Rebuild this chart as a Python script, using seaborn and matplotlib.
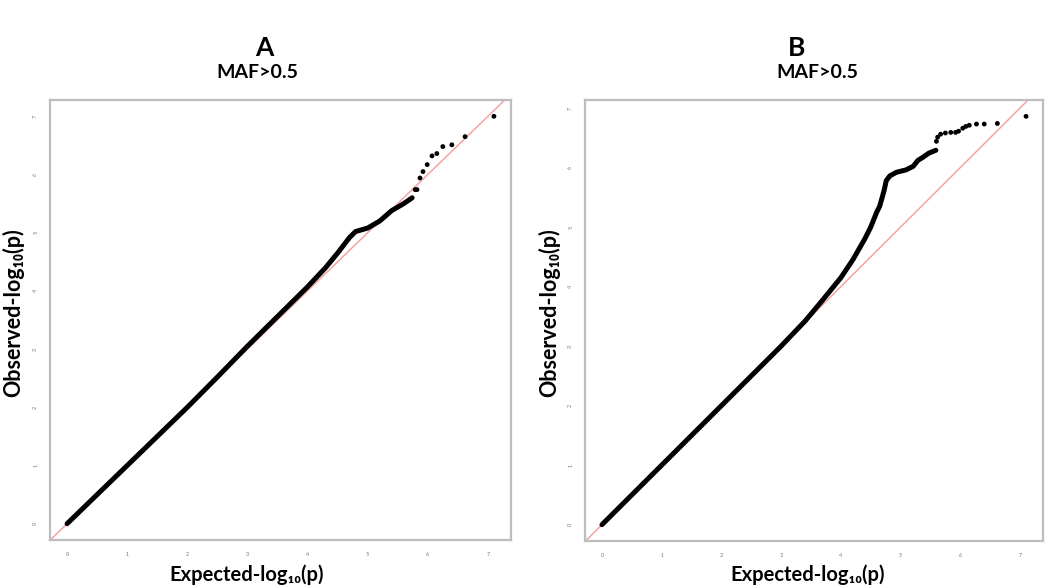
import numpy as np
import pandas as pd
import matplotlib.pyplot as plt
import seaborn as sns

# QQ plot values (expected vs observed -log10 p)
# Panel A: dense body of the curve
a_body_exp = [0, 1, 2, 2.5, 3, 3.5, 4, 4.3, 4.5, 4.7, 4.8, 5.0, 5.2, 5.4, 5.6, 5.74]
a_body_obs = [0, 1, 2, 2.52, 3.05, 3.56, 4.07, 4.4, 4.65, 4.92, 5.02, 5.08, 5.2, 5.38, 5.5, 5.6]
# Panel A: sparse tail points
a_tail_exp = [5.79, 5.82, 5.87, 5.92, 5.99, 6.07, 6.15, 6.25, 6.40, 6.62, 7.10]
a_tail_obs = [5.74, 5.74, 5.94, 6.05, 6.17, 6.32, 6.36, 6.48, 6.51, 6.65, 7.00]

# Panel B: dense body of the curve
b_body_exp = [0, 1, 2, 3, 3.4, 3.7, 4.0, 4.2, 4.4, 4.5, 4.6, 4.65, 4.72, 4.76,
              4.82, 4.93, 5.09, 5.21, 5.29, 5.37, 5.47, 5.59]
b_body_obs = [0, 1, 2, 3, 3.42, 3.78, 4.15, 4.45, 4.8, 5.0, 5.25, 5.35, 5.6, 5.78,
              5.86, 5.92, 5.96, 6.02, 6.12, 6.17, 6.24, 6.29]
# Panel B: sparse tail points
b_tail_exp = [5.60, 5.62, 5.67, 5.75, 5.84, 5.92, 5.97, 6.04, 6.09, 6.15, 6.27, 6.40, 6.62, 7.10]
b_tail_obs = [6.44, 6.51, 6.56, 6.58, 6.59, 6.59, 6.61, 6.66, 6.69, 6.71, 6.73, 6.73, 6.74, 6.86]

ticks = [0, 1, 2, 3, 4, 5, 6, 7]

sns.set_style("white")
plt.rcParams['font.family'] = ['Lato', 'DejaVu Sans']
plt.rcParams['text.color'] = 'black'

W, H = 1050, 586
fig = plt.figure(figsize=(W / 100, H / 100), dpi=100)
ax_a = fig.add_axes([50 / W, 1 - 540 / H, 461 / W, 440 / H])
ax_b = fig.add_axes([585 / W, 1 - 541 / H, 458 / W, 441 / H])

panels = [
    (ax_a, "A", a_body_exp, a_body_obs, a_tail_exp, a_tail_obs, 264, 257, 247, 13),
    (ax_b, "B", b_body_exp, b_body_obs, b_tail_exp, b_tail_obs, 797, 817, 808, 549),
]

for ax, letter, bx, by, tx, ty, letter_x, title_x, xlab_x, ylab_x in panels:
    body = pd.DataFrame({"expected": bx, "observed": by})
    tail = pd.DataFrame({"expected": tx, "observed": ty})

    # y = x reference line across the whole panel
    ax.axline((0, 0), slope=1, color="#f4a3a3", lw=1.1, zorder=1)

    sns.lineplot(data=body, x="expected", y="observed", ax=ax, sort=False,
                 color="black", lw=3.6, solid_capstyle="round", zorder=3)
    sns.scatterplot(data=tail, x="expected", y="observed", ax=ax,
                    color="black", s=12, edgecolor="none", zorder=3)

    xmax = max(tx)
    ymax = max(ty)
    ax.set_xlim(-0.04 * xmax, 1.04 * xmax)
    ax.set_ylim(-0.04 * ymax, 1.04 * ymax)

    ax.set_xticks(ticks)
    ax.set_yticks(ticks)
    ax.tick_params(axis="both", direction="out", length=3.5, width=0.8,
                   color="#888888", labelcolor="#777777", labelsize=4, pad=5)
    for lab in ax.get_yticklabels():
        lab.set_rotation(90)
        lab.set_va("center")

    for sp in ax.spines.values():
        sp.set_color("#bdbdbd")
        sp.set_linewidth(1.6)

    ax.set_xlabel("")
    ax.set_ylabel("")

    # panel letter, title and axis labels placed in figure pixels
    fig.text(letter_x / W, 1 - 48 / H, letter, fontsize=19, fontweight="bold",
             ha="center", va="center", color="black")
    fig.text(title_x / W, 1 - 72 / H, "MAF>0.5", fontsize=14, fontweight="bold",
             ha="center", va="center", color="black")
    fig.text(xlab_x / W, 1 - 575 / H, "Expected-log₁₀(p)", fontsize=14.5,
             fontweight="bold", ha="center", va="center", color="black")
    fig.text(ylab_x / W, 1 - 313 / H, "Observed-log₁₀(p)", fontsize=15.5,
             fontweight="bold", ha="center", va="center", rotation=90, color="black")

fig.savefig("out.png", dpi=100)
